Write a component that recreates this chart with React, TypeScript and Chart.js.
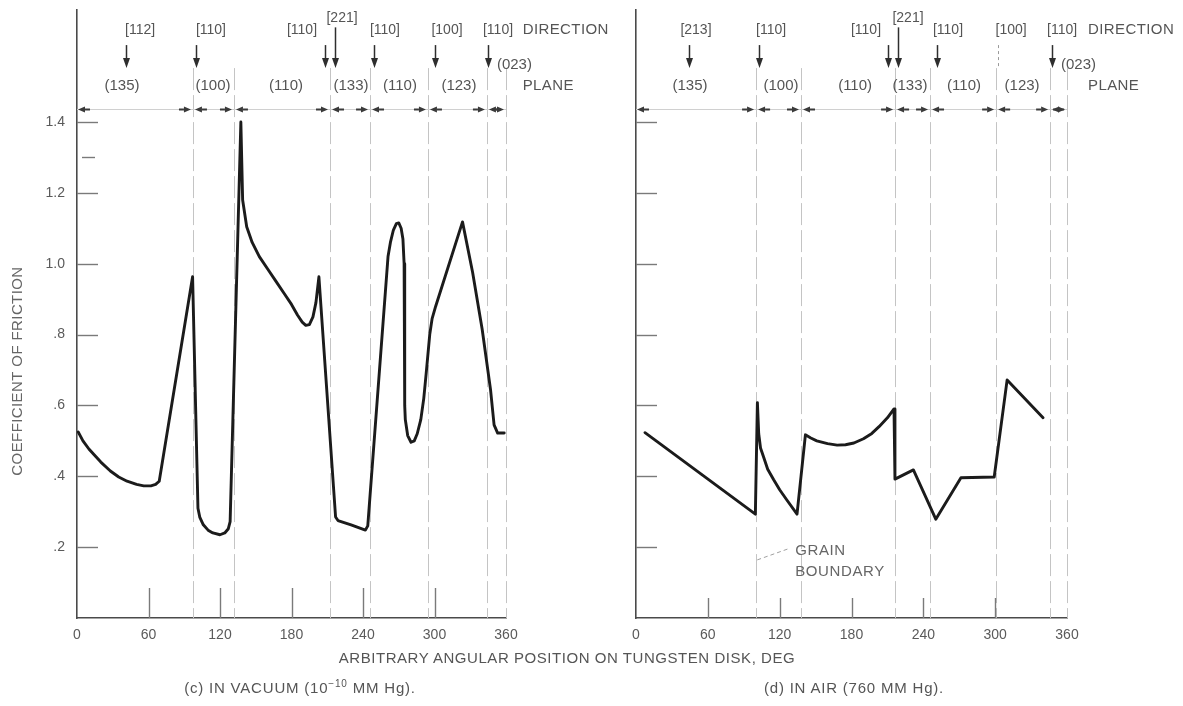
import React, { useEffect, useRef } from 'react';
import { Chart, registerables } from 'chart.js';

Chart.register(...registerables);

const FONT = '"Liberation Sans", Arial, "DejaVu Sans", sans-serif';
const INK = '#1b1b1b';
const TEXT = '#555555';
const LIGHT = '#c4c4c4';

// ---------- shared axis values ----------
const xTicks = [0, 60, 120, 180, 240, 300, 360];
const yTicks = [0, 0.2, 0.4, 0.6, 0.8, 1.0, 1.2, 1.4];
const yTickLabels = ['', '.2', '.4', '.6', '.8', '1.0', '1.2', '1.4'];
const yMax = 1.716;

// ---------- (c) in vacuum ----------
const vacuumAngle = [1, 5, 10, 14, 20, 28, 35, 42, 50, 56, 62, 66, 69, 97, 101.5, 103, 106, 110, 114, 120, 124, 127, 128.5, 137.5, 139, 142.4, 147, 153, 160, 167, 174, 180, 185, 189, 192, 195, 198, 200.5, 203, 217, 219, 230, 242, 244, 261, 263, 265.5, 268, 270, 272, 273.5, 274.5, 275, 275.5, 277.5, 280.3, 283, 285.5, 288.5, 291, 293, 296, 298, 301, 323.5, 332, 340, 347, 350, 353, 358.5];
const vacuumCoef = [0.525, 0.5, 0.477, 0.462, 0.44, 0.415, 0.398, 0.386, 0.377, 0.373, 0.373, 0.377, 0.386, 0.963, 0.31, 0.285, 0.263, 0.248, 0.24, 0.235, 0.24, 0.252, 0.272, 1.4, 1.18, 1.104, 1.06, 1.02, 0.985, 0.95, 0.915, 0.885, 0.855, 0.835, 0.826, 0.828, 0.85, 0.89, 0.963, 0.285, 0.275, 0.263, 0.248, 0.26, 1.02, 1.06, 1.095, 1.113, 1.115, 1.1, 1.07, 1.0, 0.6, 0.56, 0.515, 0.496, 0.5, 0.52, 0.56, 0.62, 0.69, 0.8, 0.845, 0.88, 1.118, 0.975, 0.815, 0.645, 0.545, 0.522, 0.522];
const vacuumBoundaries = [97.3, 131.7, 212.3, 245.9, 294.5, 344, 360];
const vacuumDirections = ['[112]', '[110]', '[110]', '[221]', '[110]', '[100]', '[110]'];
const vacuumDirectionLabelAt = [52.9, 112.4, 188.8, 222.4, 258.4, 310.5, 353.3];
const vacuumDirectionArrowAt = [41.1, 99.9, 208.1, 216.5, 249.2, 300.4, 344.9];
const vacuumPlanes = ['(135)', '(100)', '(110)', '(133)', '(110)', '(123)'];
const vacuumPlaneAt = [37.8, 114.1, 175.4, 229.9, 271, 320.5];

// ---------- (d) in air ----------
const airAngle = [7.5, 99.7, 101.4, 102.5, 104, 106.5, 110, 115, 120, 126, 134.5, 141.5, 146, 151, 160, 168, 175, 182, 190, 197, 203, 210, 215.5, 216.3, 231.7, 250.4, 271.4, 299.2, 310, 340];
const airCoef = [0.523, 0.293, 0.608, 0.52, 0.48, 0.455, 0.42, 0.39, 0.362, 0.333, 0.293, 0.517, 0.508, 0.5, 0.492, 0.488, 0.489, 0.494, 0.506, 0.521, 0.54, 0.565, 0.59, 0.392, 0.418, 0.279, 0.396, 0.398, 0.672, 0.565];
const airBoundaries = [100.3, 137.8, 216.4, 245.6, 300.8, 345.9, 360];
const airDirections = ['[213]', '[110]', '[110]', '[221]', '[110]', '[100]', '[110]'];
const airDirectionLabelAt = [50.1, 112.8, 192.1, 227.2, 260.6, 313.3, 355.9];
const airDirectionArrowAt = [44.3, 102.8, 210.5, 218.9, 251.5, 302.4, 347.5];
const airPlanes = ['(135)', '(100)', '(110)', '(133)', '(110)', '(123)'];
const airPlaneAt = [45.1, 121.1, 183, 228.9, 274, 322.5];

// annotation levels (in coefficient units)
const ARROW_Y = 1.437;
const DIR_Y = 1.66;
const DIR_HIGH_Y = 1.693;
const ARROW_TOP_Y = 1.617;
const ARROW_TOP_HIGH_Y = 1.667;
const ARROW_TIP_Y = 1.552;
const PLANE_Y = 1.502;
const SMALL_PLANE_Y = 1.561;
const BOUNDARY_TOP_Y = 1.552;

type Spec = {
  angles: number[];
  values: number[];
  boundaries: number[];
  dirs: string[];
  dirLabelAt: number[];
  dirArrowAt: number[];
  faintDir: string;
  planes: string[];
  planeAt: number[];
  smallPlaneAt: number;
  headerAt: number;
  showYLabels: boolean;
  yTitle: boolean;
  minorTick: boolean;
  xTickLen: number;
  yAxisWidth: number;
  rightPad: number;
  width: number;
  left: number;
  grain: boolean;
};

function decorPlugin(spec: Spec): any {
  return {
    id: 'decor',
    beforeDatasetsDraw(chart: any) {
      const { ctx } = chart;
      const xs = chart.scales.x;
      const ys = chart.scales.y;
      const X = (d: number) => xs.getPixelForValue(d);
      const Y = (v: number) => ys.getPixelForValue(v);
      const line = (a: number, b: number, c: number, d: number) => {
        ctx.beginPath();
        ctx.moveTo(a, b);
        ctx.lineTo(c, d);
        ctx.stroke();
      };
      ctx.save();
      // boundary lines
      ctx.strokeStyle = LIGHT;
      ctx.lineWidth = 1;
      ctx.setLineDash([22, 5]);
      for (const b of spec.boundaries) {
        const bx = Math.round(X(b)) + 0.5;
        line(bx, Y(BOUNDARY_TOP_Y), bx, Y(0));
      }
      ctx.setLineDash([]);
      // inward ticks
      ctx.strokeStyle = '#7a7a7a';
      ctx.lineWidth = 1.4;
      const x0 = X(0);
      for (const v of yTicks) {
        if (v === 0) continue;
        const ty = Math.round(Y(v)) + 0.5;
        line(x0, ty, x0 + 21, ty);
      }
      if (spec.minorTick) {
        const ty = Math.round(Y(1.3)) + 0.5;
        line(x0 + 5, ty, x0 + 18, ty);
      }
      for (const d of xTicks) {
        if (d === 0 || d === 360) continue;
        const tx = Math.round(X(d)) + 0.5;
        line(tx, Y(0), tx, Y(0) - spec.xTickLen);
      }
      // dimension line
      ctx.strokeStyle = '#d0d0d0';
      ctx.lineWidth = 1;
      const ay = Math.round(Y(ARROW_Y)) + 0.5;
      line(X(0), ay, X(360), ay);
      ctx.fillStyle = '#3a3a3a';
      ctx.strokeStyle = '#3a3a3a';
      ctx.lineWidth = 2;
      const head = (tip: number, dir: number) => {
        const base = tip - dir * 7;
        ctx.beginPath();
        ctx.moveTo(tip, ay);
        ctx.lineTo(base, ay - 3);
        ctx.lineTo(base, ay + 3);
        ctx.closePath();
        ctx.fill();
        line(base, ay, base - dir * 5, ay);
      };
      const all = [0, ...spec.boundaries];
      for (const b of all) {
        const bx = X(b);
        if (b > 0) head(bx - 2, 1);
        if (b < 360) head(bx + (b === 0 ? 1 : 2), -1);
      }
      // direction arrows
      spec.dirArrowAt.forEach((a, i) => {
        const ax = Math.round(X(a)) + 0.5;
        const label = spec.dirs[i];
        const top = Y(label === '[221]' ? ARROW_TOP_HIGH_Y : ARROW_TOP_Y);
        const tip = Y(ARROW_TIP_Y);
        if (label === spec.faintDir) {
          ctx.strokeStyle = '#9a9a9a';
          ctx.lineWidth = 1;
          ctx.setLineDash([3, 3]);
          line(ax, top, ax, tip);
          ctx.setLineDash([]);
          return;
        }
        ctx.strokeStyle = '#2e2e2e';
        ctx.fillStyle = '#2e2e2e';
        ctx.lineWidth = 1.5;
        line(ax, top, ax, tip - 8);
        ctx.beginPath();
        ctx.moveTo(ax, tip);
        ctx.lineTo(ax - 3.5, tip - 10);
        ctx.lineTo(ax + 3.5, tip - 10);
        ctx.closePath();
        ctx.fill();
      });
      ctx.restore();
    },
    afterDraw(chart: any) {
      const { ctx } = chart;
      const xs = chart.scales.x;
      const ys = chart.scales.y;
      const X = (d: number) => xs.getPixelForValue(d);
      const Y = (v: number) => ys.getPixelForValue(v);
      ctx.save();
      ctx.fillStyle = TEXT;
      ctx.textBaseline = 'middle';
      (ctx as any).letterSpacing = '0px';
      ctx.font = `14px ${FONT}`;
      ctx.textAlign = 'center';
      spec.dirs.forEach((t, i) => {
        ctx.fillText(t, X(spec.dirLabelAt[i]), Y(t === '[221]' ? DIR_HIGH_Y : DIR_Y));
      });
      ctx.font = `15px ${FONT}`;
      spec.planes.forEach((t, i) => {
        ctx.fillText(t, X(spec.planeAt[i]), Y(PLANE_Y));
      });
      ctx.textAlign = 'left';
      ctx.fillText('(023)', X(spec.smallPlaneAt), Y(SMALL_PLANE_Y));
      (ctx as any).letterSpacing = '0.4px';
      ctx.fillText('DIRECTION', X(spec.headerAt), Y(DIR_Y));
      ctx.fillText('PLANE', X(spec.headerAt), Y(PLANE_Y));
      if (spec.yTitle) {
        ctx.save();
        ctx.translate(18, Y(0.697));
        ctx.rotate(-Math.PI / 2);
        ctx.textAlign = 'center';
        ctx.fillStyle = '#666';
        ctx.fillText('COEFFICIENT OF FRICTION', 0, 0);
        ctx.restore();
      }
      if (spec.grain) {
        ctx.strokeStyle = '#a0a0a0';
        ctx.lineWidth = 1;
        ctx.setLineDash([4, 3]);
        ctx.beginPath();
        ctx.moveTo(X(101.3), Y(0.164));
        ctx.lineTo(X(128.6), Y(0.197));
        ctx.stroke();
        ctx.setLineDash([]);
        (ctx as any).letterSpacing = '0.6px';
        ctx.fillStyle = '#666';
        ctx.fillText('GRAIN', X(133), Y(0.189));
        ctx.fillText('BOUNDARY', X(133), Y(0.13));
      }
      ctx.restore();
    },
  };
}

function buildConfig(spec: Spec): any {
  return {
    type: 'line',
    data: {
      datasets: [
        {
          data: spec.angles.map((a, i) => ({ x: a, y: spec.values[i] })),
          borderColor: INK,
          borderWidth: 2.9,
          pointRadius: 0,
          tension: 0,
          borderJoinStyle: 'round',
          borderCapStyle: 'round',
          fill: false,
        },
      ],
    },
    options: {
      animation: false,
      responsive: false,
      events: [],
      layout: { padding: { left: 0, top: 10, right: spec.rightPad, bottom: 0 } },
      plugins: { legend: { display: false }, tooltip: { enabled: false }, title: { display: false } },
      scales: {
        x: {
          type: 'linear',
          min: 0,
          max: 360,
          grid: { display: false, drawTicks: false },
          border: { display: true, color: '#4a4a4a', width: 1.6 },
          afterBuildTicks: (s: any) => {
            s.ticks = xTicks.map((v) => ({ value: v }));
          },
          afterFit: (s: any) => {
            s.height = 88;
            s.paddingLeft = 0;
            s.paddingRight = 0;
          },
          ticks: {
            padding: 9,
            color: '#5a5a5a',
            font: { family: FONT, size: 14 },
            maxRotation: 0,
            autoSkip: false,
            callback: (v: any) => String(v),
          },
        },
        y: {
          type: 'linear',
          min: 0,
          max: yMax,
          grid: { display: false, drawTicks: false },
          border: { display: true, color: '#4a4a4a', width: 1.6 },
          afterBuildTicks: (s: any) => {
            s.ticks = yTicks.map((v) => ({ value: v }));
          },
          afterFit: (s: any) => {
            s.width = spec.yAxisWidth;
            s.paddingTop = 0;
            s.paddingBottom = 0;
          },
          ticks: {
            display: spec.showYLabels,
            padding: 12,
            color: '#5a5a5a',
            font: { family: FONT, size: 14 },
            autoSkip: false,
            callback: (_v: any, i: number) => yTickLabels[i],
          },
        },
      },
    },
    plugins: [decorPlugin(spec)],
  };
}

const vacuumSpec: Spec = {
  angles: vacuumAngle,
  values: vacuumCoef,
  boundaries: vacuumBoundaries,
  dirs: vacuumDirections,
  dirLabelAt: vacuumDirectionLabelAt,
  dirArrowAt: vacuumDirectionArrowAt,
  faintDir: '',
  planes: vacuumPlanes,
  planeAt: vacuumPlaneAt,
  smallPlaneAt: 352.4,
  headerAt: 374,
  showYLabels: true,
  yTitle: true,
  minorTick: true,
  xTickLen: 30,
  yAxisWidth: 77,
  rightPad: 114,
  width: 620,
  left: 0,
  grain: false,
};

const airSpec: Spec = {
  angles: airAngle,
  values: airCoef,
  boundaries: airBoundaries,
  dirs: airDirections,
  dirLabelAt: airDirectionLabelAt,
  dirArrowAt: airDirectionArrowAt,
  faintDir: '[100]',
  planes: airPlanes,
  planeAt: airPlaneAt,
  smallPlaneAt: 355,
  headerAt: 377.6,
  showYLabels: false,
  yTitle: false,
  minorTick: false,
  xTickLen: 20,
  yAxisWidth: 16,
  rightPad: 116,
  width: 563,
  left: 620,
  grain: true,
};

function Panel({ spec }: { spec: Spec }) {
  const ref = useRef<HTMLCanvasElement | null>(null);
  useEffect(() => {
    if (!ref.current) return;
    const chart = new Chart(ref.current, buildConfig(spec));
    return () => chart.destroy();
  }, [spec]);
  return (
    <canvas
      ref={ref}
      width={spec.width}
      height={706}
      style={{ position: 'absolute', left: spec.left, top: 0, width: spec.width, height: 706 }}
    />
  );
}

const textStyle: React.CSSProperties = {
  position: 'absolute',
  transform: 'translateX(-50%)',
  whiteSpace: 'nowrap',
  fontFamily: FONT,
  fontSize: 15,
  lineHeight: '18px',
  color: TEXT,
};

export default function App() {
  return (
    <div style={{ position: 'absolute', left: 0, top: 0, width: 1183, height: 706, background: '#fff', overflow: 'hidden' }}>
      <Panel spec={vacuumSpec} />
      <Panel spec={airSpec} />
      <div style={{ ...textStyle, left: 567, top: 649, letterSpacing: '0.55px' }}>
        ARBITRARY ANGULAR POSITION ON TUNGSTEN DISK, DEG
      </div>
      <div style={{ ...textStyle, left: 300, top: 679, letterSpacing: '0.8px' }}>
        (c) IN VACUUM (10<span style={{ fontSize: 10, position: 'relative', top: -6 }}>−10</span> MM Hg).
      </div>
      <div style={{ ...textStyle, left: 854, top: 679, letterSpacing: '0.8px' }}>
        (d) IN AIR (760 MM Hg).
      </div>
    </div>
  );
}
